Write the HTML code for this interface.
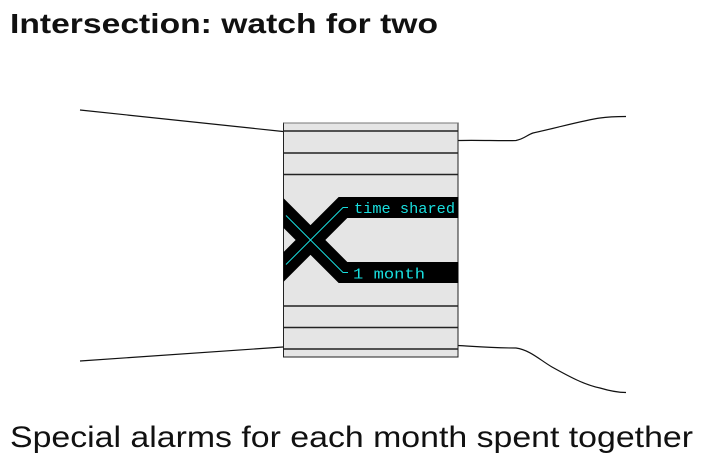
<!DOCTYPE html>
<html><head><meta charset="utf-8"><style>
html,body{margin:0;padding:0;background:#fff;}
svg{display:block;}
</style></head><body>
<svg width="706" height="465" viewBox="0 0 706 465" xmlns="http://www.w3.org/2000/svg">
<defs><clipPath id="c"><rect x="283.5" y="123" width="175" height="234"/></clipPath></defs>
<text x="10" y="33" font-family="Liberation Sans, sans-serif" font-weight="bold" font-size="28" fill="#111" textLength="428" lengthAdjust="spacingAndGlyphs">Intersection: watch for two</text>
<text x="10" y="447" font-family="Liberation Sans, sans-serif" font-size="30" fill="#111" textLength="683" lengthAdjust="spacingAndGlyphs">Special alarms for each month spent together</text>
<g fill="none" stroke="#111" stroke-width="1.2">
<path d="M80 110 L283 131.5"/>
<path d="M80 361 L283 347"/>
<path d="M458 140.5 C480 140 500 141 516 140.5 C524 139 527 135 533 133 C560 127 585 120 600 118 C610 116.5 618 116.5 626 116.5"/>
<path d="M458 345.5 C470 346 490 348 516 348 C530 350 540 360 552 367 C570 377 585 385 600 388 C610 391 618 392.5 626 392.5"/>
</g>
<rect x="283.5" y="123" width="174.5" height="234" fill="#e5e5e5" stroke="#222" stroke-width="1"/>
<line x1="283.5" y1="123" x2="458" y2="123" stroke="#777" stroke-width="1"/>
<g stroke="#222" stroke-width="1.5">
<line x1="283.5" y1="131" x2="458" y2="131"/>
<line x1="283.5" y1="153" x2="458" y2="153"/>
<line x1="283.5" y1="174.5" x2="458" y2="174.5"/>
<line x1="283.5" y1="306" x2="458" y2="306"/>
<line x1="283.5" y1="327.5" x2="458" y2="327.5"/>
<line x1="283.5" y1="349" x2="458" y2="349"/>
</g>
<g clip-path="url(#c)" fill="none" stroke="#000" stroke-width="21" stroke-linejoin="miter" stroke-miterlimit="10">
<path d="M470 207.5 H343 L270 280.5"/>
<path d="M470 272.5 H343 L270 199.5"/>
</g>
<g fill="none" stroke="#19dede" stroke-width="1">
<path d="M286 215.5 L343 272.5 H348"/>
<path d="M286 264.5 L343 207.5 H348"/>
</g>
<text x="354" y="213" font-family="Liberation Mono, monospace" font-size="14.5" fill="#19dede" textLength="101" lengthAdjust="spacingAndGlyphs">time shared</text>
<text x="353" y="278.5" font-family="Liberation Mono, monospace" font-size="14.5" fill="#19dede" textLength="72" lengthAdjust="spacingAndGlyphs">1 month</text>
</svg>
</body></html>
